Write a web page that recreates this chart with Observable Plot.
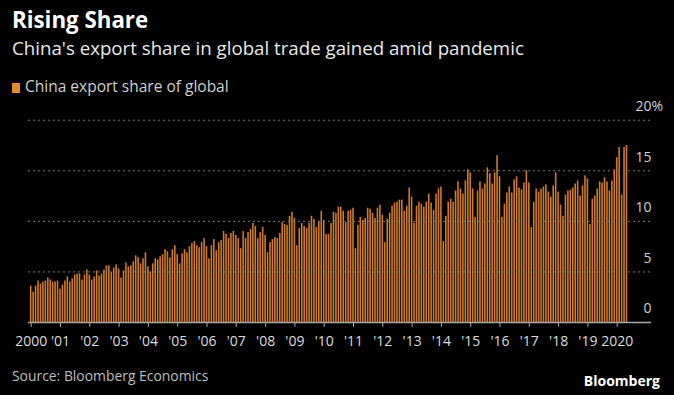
<!DOCTYPE html>
<html><head><meta charset="utf-8">
<script src="https://cdn.jsdelivr.net/npm/d3@7"></script>
<script src="https://cdn.jsdelivr.net/npm/@observablehq/plot@0.6"></script>
<style>
html,body{margin:0;padding:0;background:#000;}
#wrap{position:relative;width:674px;height:395px;overflow:hidden;font-family:"Open Sans",sans-serif;background:#000;}
.t{position:absolute;left:12px;white-space:nowrap;line-height:1;}
#title{top:9px;font-size:22.3px;font-weight:700;color:#fff;}
#sub{top:39px;font-size:18.7px;color:#e8e8e8;}
#legend{top:79px;font-size:15.5px;color:#cfcfcf;}
#legend .sw{display:inline-block;width:8px;height:10px;background:#e08a2a;margin-right:5px;vertical-align:-1px;}
#chart{position:absolute;left:0;top:95px;}
#source{top:369px;font-size:13.9px;color:#bdbdbd;}
#logo{position:absolute;right:14px;top:374px;font-size:14px;font-weight:700;color:#fff;line-height:1;}
</style>
</head><body>
<div id="wrap">
  <div id="title" class="t">Rising Share</div>
  <div id="sub" class="t">China's export share in global trade gained amid pandemic</div>
  <div id="legend" class="t"><span class="sw"></span>China export share of global</div>
  <div id="chart"></div>
  <div id="source" class="t">Source: Bloomberg Economics</div>
  <div id="logo">Bloomberg</div>
</div>
<script>
const y2000 = [3.6, 3.0, 3.6, 4.1, 3.8, 4.0, 4.1, 4.4, 4.2, 4.0, 4.0, 4.1];
const y2001 = [3.3, 3.7, 4.1, 4.5, 4.0, 4.3, 4.7, 4.8, 4.8, 4.2, 4.7, 5.2];
const y2002 = [4.7, 4.2, 4.5, 5.1, 4.6, 4.8, 5.2, 5.6, 5.6, 5.0, 5.4, 5.7];
const y2003 = [5.3, 4.4, 5.1, 5.9, 5.5, 5.6, 6.0, 6.6, 6.4, 5.8, 6.3, 6.9];
const y2004 = [5.5, 5.0, 5.8, 6.3, 6.2, 6.5, 6.7, 7.2, 7.0, 6.4, 7.2, 7.6];
const y2005 = [6.7, 5.8, 6.8, 7.2, 6.9, 7.5, 7.8, 8.0, 7.6, 7.4, 7.9, 8.3];
const y2006 = [7.5, 6.3, 7.6, 8.2, 7.1, 7.9, 8.1, 9.0, 8.7, 8.3, 8.8, 9.0];
const y2007 = [8.6, 8.3, 7.3, 9.0, 8.3, 8.9, 9.2, 9.8, 9.5, 8.3, 8.9, 9.4];
const y2008 = [8.6, 6.9, 7.9, 8.2, 8.4, 8.3, 8.8, 9.9, 9.7, 9.6, 10.5, 10.9];
const y2009 = [10.3, 7.6, 9.3, 9.8, 9.5, 9.3, 9.8, 10.5, 10.2, 9.4, 9.9, 11.0];
const y2010 = [10.1, 8.7, 8.7, 9.8, 10.9, 10.8, 11.4, 11.4, 11.0, 9.9, 11.0, 11.1];
const y2011 = [11.3, 7.3, 9.6, 10.4, 10.1, 10.3, 11.3, 11.2, 10.8, 10.3, 11.3, 11.6];
const y2012 = [10.6, 7.9, 10.2, 10.8, 11.5, 11.8, 11.9, 12.1, 12.1, 11.0, 11.5, 13.3];
const y2013 = [12.4, 9.8, 11.5, 11.9, 11.7, 11.4, 11.9, 12.7, 11.8, 11.1, 12.7, 13.2];
const y2014 = [13.4, 8.0, 10.5, 11.9, 12.2, 11.9, 13.0, 13.9, 13.2, 12.7, 14.0, 15.1];
const y2015 = [14.8, 13.2, 10.4, 13.0, 13.9, 13.2, 13.7, 15.3, 14.7, 13.7, 14.8, 16.5];
const y2016 = [14.4, 10.4, 11.7, 12.8, 13.4, 12.8, 14.1, 14.4, 13.3, 13.1, 13.8, 15.0];
const y2017 = [13.8, 9.4, 11.9, 13.2, 12.9, 13.2, 13.4, 13.6, 12.9, 12.4, 13.5, 14.8];
const y2018 = [12.9, 11.6, 10.5, 12.6, 13.0, 13.1, 13.3, 13.7, 14.0, 12.5, 13.5, 14.5];
const y2019 = [14.2, 9.7, 12.2, 12.5, 13.2, 13.9, 13.8, 14.3, 13.9, 13.0, 14.0, 15.1];
const y2020 = [16.3, 17.3, 12.6, 17.3, 17.5];

const xTickYears = [2000,2001,2002,2003,2004,2005,2006,2007,2008,2009,2010,2011,2012,2013,2014,2015,2016,2017,2018,2019,2020];
const xTickLabels = ["2000","'01","'02","'03","'04","'05","'06","'07","'08","'09","'10","'11","'12","'13","'14","'15","'16","'17","'18","'19","2020"];
const yTicks = [0, 5, 10, 15, 20];
const gridTicks = [5, 10, 15, 20];

const allYears = [y2000,y2001,y2002,y2003,y2004,y2005,y2006,y2007,y2008,y2009,y2010,y2011,y2012,y2013,y2014,y2015,y2016,y2017,y2018,y2019,y2020];
const data = [];
allYears.forEach((arr, yi) => arr.forEach((v, m) => data.push({t: 2000 + yi + m / 12, v})));

const xMin = 1999.908, xMax = 2021.17;
const half = 0.027;

const chart = Plot.plot({
  width: 674,
  height: 262,
  marginLeft: 28,
  marginRight: 23,
  marginTop: 24.7,
  marginBottom: 35,
  style: {background: "transparent", color: "#d6d6d6", fontSize: "14px", fontFamily: "'Open Sans', sans-serif"},
  x: {domain: [xMin, xMax], axis: null},
  y: {domain: [0, 20], axis: null},
  marks: [
    Plot.rectY(data, {x1: d => d.t - half, x2: d => d.t + half, y: "v", fill: "#cf7b25"}),
    Plot.ruleY(gridTicks, {stroke: "#7a7a7a", strokeDasharray: "2,3", strokeWidth: 1}),
    Plot.ruleY([0], {stroke: "#a8a8a8", strokeWidth: 1.5}),
    Plot.axisX({ticks: xTickYears, tickFormat: d => xTickLabels[xTickYears.indexOf(d)], tickSize: 5, tickPadding: 9, stroke: "#a8a8a8", fill: "#dcdcdc", fontSize: 14}),
    Plot.text(yTicks, {x: () => xMax, y: d => d, text: d => String(d), textAnchor: "end", dy: -13.5, fill: "#d0d0d0", fontSize: 14}),
    Plot.text([20], {x: () => xMax, y: d => d, text: () => "%", textAnchor: "start", dy: -13.5, fill: "#d0d0d0", fontSize: 14})
  ]
});
document.getElementById("chart").appendChild(chart);
</script>
</body></html>
